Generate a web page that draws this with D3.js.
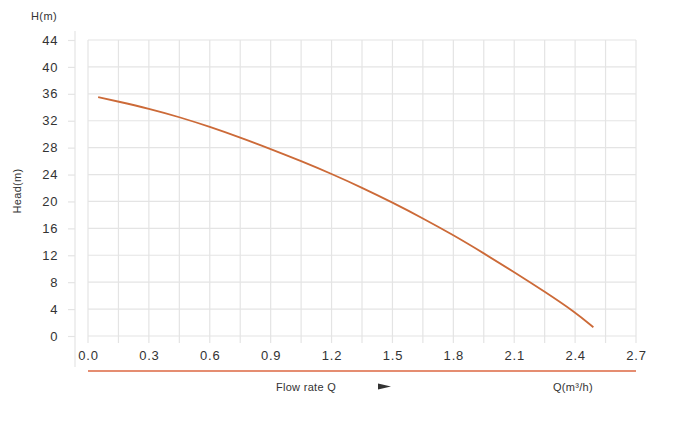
<!DOCTYPE html>
<meta charset="utf-8">
<script src="https://d3js.org/d3.v7.min.js"></script>
<style>
  body { margin: 0; background: #fff; }
  text { font-family: "Liberation Sans", Arial, sans-serif; fill: #333; }
</style>
<div id="chart"></div>
<script>

// pump curve
const flow = [0.05, 0.15, 0.3, 0.45, 0.6, 0.75, 0.9, 1.05, 1.2, 1.35, 1.5, 1.65, 1.8, 1.95, 2.1, 2.25, 2.4, 2.49];
const head = [35.5, 34.85, 33.8, 32.55, 31.1, 29.5, 27.8, 26.0, 24.1, 22.05, 19.85, 17.5, 15.0, 12.3, 9.5, 6.6, 3.55, 1.3];

const xTicks = [0, 0.3, 0.6, 0.9, 1.2, 1.5, 1.8, 2.1, 2.4, 2.7];
const xGrid = d3.range(0, 2.7001, 0.15);
const yTicks = [0, 4, 8, 12, 16, 20, 24, 28, 32, 36, 40, 44];

const width = 700, height = 423;

const svg = d3.select("#chart")
  .append("svg")
    .attr("width", width)
    .attr("height", height);

const x = d3.scaleLinear().domain([0, 2.7]).range([88, 636]);
const y = d3.scaleLinear().domain([0, 44]).range([336, 40]);

// horizontal grid
svg.append("g")
  .selectAll("line")
  .data(yTicks)
  .join("line")
    .attr("x1", x(0))
    .attr("x2", x(2.7))
    .attr("y1", d => y(d))
    .attr("y2", d => y(d))
    .attr("stroke", "#e4e4e4")
    .attr("stroke-width", 1.2);

// vertical grid, runs a little below the 0 line
svg.append("g")
  .selectAll("line")
  .data(xGrid)
  .join("line")
    .attr("x1", d => x(d))
    .attr("x2", d => x(d))
    .attr("y1", y(44))
    .attr("y2", y(0) + 7)
    .attr("stroke", "#e4e4e4")
    .attr("stroke-width", 1.2);

// left axis: thin line plus short ticks and labels
const yAxis = svg.append("g")
  .attr("transform", "translate(75,0)")
  .call(d3.axisLeft(y).tickValues(yTicks).tickSize(7).tickPadding(10).tickFormat(d3.format("d")));
yAxis.select(".domain").remove();
yAxis.append("line")
  .attr("x1", 0).attr("x2", 0)
  .attr("y1", 31).attr("y2", 367)
  .attr("stroke", "#e4e4e4")
  .attr("stroke-width", 1.2);
yAxis.selectAll(".tick line").attr("stroke", "#e4e4e4").attr("stroke-width", 1.2);
yAxis.selectAll(".tick text")
  .attr("font-size", 13)
  .attr("letter-spacing", "0.6px")
  .attr("fill", "#3a3a3a");

// bottom labels
const xAxis = svg.append("g")
  .attr("transform", `translate(0,${y(0) + 7})`)
  .call(d3.axisBottom(x).tickValues(xTicks).tickSize(0).tickPadding(8).tickFormat(d3.format(".1f")));
xAxis.select(".domain").remove();
xAxis.selectAll(".tick text")
  .attr("font-size", 13)
  .attr("letter-spacing", "0.8px")
  .attr("fill", "#3a3a3a");

// the curve
const line = d3.line()
  .x((d, i) => x(flow[i]))
  .y(d => y(d))
  .curve(d3.curveBasis);

svg.append("path")
  .datum(head)
  .attr("d", line)
  .attr("fill", "none")
  .attr("stroke", "#cc6a38")
  .attr("stroke-width", 1.8);

// orange bar under the axis
svg.append("line")
  .attr("x1", x(0)).attr("x2", x(2.7))
  .attr("y1", 371).attr("y2", 371)
  .attr("stroke", "#dc6742")
  .attr("stroke-width", 1.5);

svg.append("text")
  .attr("x", 306).attr("y", 391)
  .attr("text-anchor", "middle")
  .attr("font-size", 11)
  .attr("letter-spacing", "0.3px")
  .text("Flow rate Q");

svg.append("path")
  .attr("d", "M378,383.5 L391,386.5 L378,389.5 Z")
  .attr("fill", "#333");

svg.append("text")
  .attr("x", 573).attr("y", 391)
  .attr("text-anchor", "middle")
  .attr("font-size", 11)
  .attr("letter-spacing", "0.3px")
  .text("Q(m³/h)");

svg.append("text")
  .attr("x", 44).attr("y", 20)
  .attr("text-anchor", "middle")
  .attr("font-size", 11)
  .attr("letter-spacing", "0.4px")
  .text("H(m)");

svg.append("text")
  .attr("transform", "translate(21,191) rotate(-90)")
  .attr("text-anchor", "middle")
  .attr("font-size", 11)
  .attr("letter-spacing", "0.3px")
  .text("Head(m)");

</script>
